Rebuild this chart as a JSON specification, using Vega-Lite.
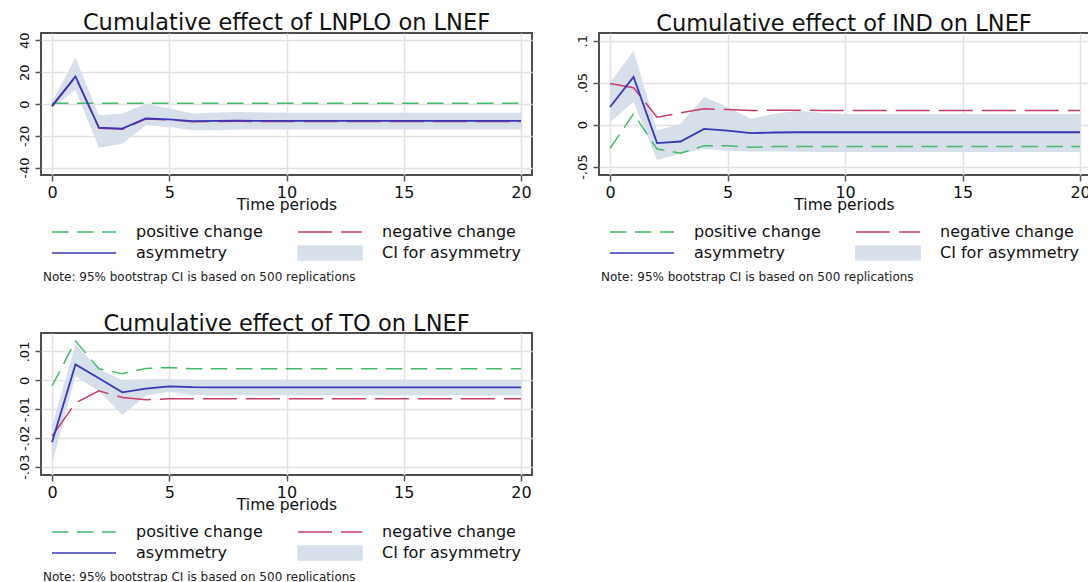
{
  "$schema": "https://vega.github.io/schema/vega-lite/v6.json",
  "padding": {"left": 16, "top": 10, "right": 0, "bottom": 0},
  "background": "white",
  "datasets": {
    "lnplo": [
      {"t": 0, "pos": 0.4, "neg": -1.6, "asym": -1.2, "lo": -2.7, "hi": 1.4},
      {"t": 1, "pos": 0.4, "neg": 16.9, "asym": 17.3, "lo": 9, "hi": 29},
      {"t": 2, "pos": 0.4, "neg": -15.2, "asym": -14.8, "lo": -27.5, "hi": -7},
      {"t": 3, "pos": 0.4, "neg": -15.9, "asym": -15.5, "lo": -25, "hi": -6},
      {"t": 4, "pos": 0.4, "neg": -9.5, "asym": -9.1, "lo": -13.3, "hi": 0},
      {"t": 5, "pos": 0.4, "neg": -10.0, "asym": -9.6, "lo": -14.4, "hi": -2.7},
      {"t": 6, "pos": 0.4, "neg": -11.2, "asym": -10.8, "lo": -16.5, "hi": -6},
      {"t": 7, "pos": 0.4, "neg": -11.0, "asym": -10.6, "lo": -16.3, "hi": -5.3},
      {"t": 8, "pos": 0.4, "neg": -10.9, "asym": -10.5, "lo": -16.0, "hi": -5.0},
      {"t": 9, "pos": 0.4, "neg": -11.0, "asym": -10.6, "lo": -16.0, "hi": -5.3},
      {"t": 10, "pos": 0.4, "neg": -11.0, "asym": -10.6, "lo": -16.0, "hi": -5.5},
      {"t": 11, "pos": 0.4, "neg": -11.0, "asym": -10.6, "lo": -16.0, "hi": -5.5},
      {"t": 12, "pos": 0.4, "neg": -11.0, "asym": -10.6, "lo": -16.0, "hi": -5.5},
      {"t": 13, "pos": 0.4, "neg": -11.0, "asym": -10.6, "lo": -16.0, "hi": -5.5},
      {"t": 14, "pos": 0.4, "neg": -11.0, "asym": -10.6, "lo": -16.0, "hi": -5.5},
      {"t": 15, "pos": 0.4, "neg": -11.0, "asym": -10.6, "lo": -16.0, "hi": -5.5},
      {"t": 16, "pos": 0.4, "neg": -11.0, "asym": -10.6, "lo": -16.0, "hi": -5.5},
      {"t": 17, "pos": 0.4, "neg": -11.0, "asym": -10.6, "lo": -16.0, "hi": -5.5},
      {"t": 18, "pos": 0.4, "neg": -11.0, "asym": -10.6, "lo": -16.0, "hi": -5.5},
      {"t": 19, "pos": 0.4, "neg": -11.0, "asym": -10.6, "lo": -16.0, "hi": -5.5},
      {"t": 20, "pos": 0.4, "neg": -11.0, "asym": -10.6, "lo": -16.0, "hi": -5.5}
    ],
    "ind": [
      {"t": 0, "pos": -0.028, "neg": 0.049, "asym": 0.021, "lo": 0.003, "hi": 0.050},
      {"t": 1, "pos": 0.013, "neg": 0.044, "asym": 0.057, "lo": 0.027, "hi": 0.088},
      {"t": 2, "pos": -0.029, "neg": 0.009, "asym": -0.022, "lo": -0.042, "hi": -0.007},
      {"t": 3, "pos": -0.034, "neg": 0.014, "asym": -0.020, "lo": -0.0345, "hi": 0.001},
      {"t": 4, "pos": -0.025, "neg": 0.019, "asym": -0.005, "lo": -0.029, "hi": 0.033},
      {"t": 5, "pos": -0.025, "neg": 0.018, "asym": -0.007, "lo": -0.031, "hi": 0.021},
      {"t": 6, "pos": -0.027, "neg": 0.017, "asym": -0.010, "lo": -0.032, "hi": 0.007},
      {"t": 7, "pos": -0.026, "neg": 0.0172, "asym": -0.0093, "lo": -0.032, "hi": 0.013},
      {"t": 8, "pos": -0.026, "neg": 0.0172, "asym": -0.009, "lo": -0.0323, "hi": 0.0165},
      {"t": 9, "pos": -0.026, "neg": 0.017, "asym": -0.009, "lo": -0.0325, "hi": 0.014},
      {"t": 10, "pos": -0.026, "neg": 0.017, "asym": -0.009, "lo": -0.0325, "hi": 0.0128},
      {"t": 11, "pos": -0.026, "neg": 0.017, "asym": -0.009, "lo": -0.0325, "hi": 0.0128},
      {"t": 12, "pos": -0.026, "neg": 0.017, "asym": -0.009, "lo": -0.0325, "hi": 0.0128},
      {"t": 13, "pos": -0.026, "neg": 0.017, "asym": -0.009, "lo": -0.0325, "hi": 0.0128},
      {"t": 14, "pos": -0.026, "neg": 0.017, "asym": -0.009, "lo": -0.0325, "hi": 0.0128},
      {"t": 15, "pos": -0.026, "neg": 0.017, "asym": -0.009, "lo": -0.0325, "hi": 0.0128},
      {"t": 16, "pos": -0.026, "neg": 0.017, "asym": -0.009, "lo": -0.0325, "hi": 0.0128},
      {"t": 17, "pos": -0.026, "neg": 0.017, "asym": -0.009, "lo": -0.0325, "hi": 0.0128},
      {"t": 18, "pos": -0.026, "neg": 0.017, "asym": -0.009, "lo": -0.0325, "hi": 0.0128},
      {"t": 19, "pos": -0.026, "neg": 0.017, "asym": -0.009, "lo": -0.0325, "hi": 0.0128},
      {"t": 20, "pos": -0.026, "neg": 0.017, "asym": -0.009, "lo": -0.0325, "hi": 0.0128}
    ],
    "to": [
      {"t": 0, "pos": -0.002, "neg": -0.0194, "asym": -0.0215, "lo": -0.029, "hi": -0.0158},
      {"t": 1, "pos": 0.0136, "neg": -0.0079, "asym": 0.0055, "lo": 0.0015, "hi": 0.0124},
      {"t": 2, "pos": 0.004, "neg": -0.0037, "asym": 0.0007, "lo": -0.0037, "hi": 0.0038},
      {"t": 3, "pos": 0.0023, "neg": -0.006, "asym": -0.0042, "lo": -0.0121, "hi": 0.0001},
      {"t": 4, "pos": 0.0041, "neg": -0.0068, "asym": -0.0029, "lo": -0.0054, "hi": 0.0003},
      {"t": 5, "pos": 0.0044, "neg": -0.0064, "asym": -0.0021, "lo": -0.004, "hi": 0.0004},
      {"t": 6, "pos": 0.004, "neg": -0.0064, "asym": -0.0024, "lo": -0.0052, "hi": 0.0002},
      {"t": 7, "pos": 0.004, "neg": -0.0064, "asym": -0.0025, "lo": -0.0052, "hi": 0.0002},
      {"t": 8, "pos": 0.004, "neg": -0.0064, "asym": -0.0025, "lo": -0.0052, "hi": 0.0002},
      {"t": 9, "pos": 0.004, "neg": -0.0064, "asym": -0.0025, "lo": -0.0052, "hi": 0.0002},
      {"t": 10, "pos": 0.004, "neg": -0.0064, "asym": -0.0025, "lo": -0.0052, "hi": 0.0002},
      {"t": 11, "pos": 0.004, "neg": -0.0064, "asym": -0.0025, "lo": -0.0052, "hi": 0.0002},
      {"t": 12, "pos": 0.004, "neg": -0.0064, "asym": -0.0025, "lo": -0.0052, "hi": 0.0002},
      {"t": 13, "pos": 0.004, "neg": -0.0064, "asym": -0.0025, "lo": -0.0052, "hi": 0.0002},
      {"t": 14, "pos": 0.004, "neg": -0.0064, "asym": -0.0025, "lo": -0.0052, "hi": 0.0002},
      {"t": 15, "pos": 0.004, "neg": -0.0064, "asym": -0.0025, "lo": -0.0052, "hi": 0.0002},
      {"t": 16, "pos": 0.004, "neg": -0.0064, "asym": -0.0025, "lo": -0.0052, "hi": 0.0002},
      {"t": 17, "pos": 0.004, "neg": -0.0064, "asym": -0.0025, "lo": -0.0052, "hi": 0.0002},
      {"t": 18, "pos": 0.004, "neg": -0.0064, "asym": -0.0025, "lo": -0.0052, "hi": 0.0002},
      {"t": 19, "pos": 0.004, "neg": -0.0064, "asym": -0.0025, "lo": -0.0052, "hi": 0.0002},
      {"t": 20, "pos": 0.004, "neg": -0.0064, "asym": -0.0025, "lo": -0.0052, "hi": 0.0002}
    ]
  },
  "columns": 2,
  "spacing": {"column": 67, "row": 158},
  "bounds": "flush",
  "resolve": {"scale": {"color": "independent"}, "legend": {"color": "independent"}},
  "concat": [
    {
      "title": "Cumulative effect of LNPLO on LNEF",
      "width": 491, "height": 142,
      "data": {"name": "lnplo"},
      "encoding": {"x": {"field": "t", "type": "quantitative", "title": "Time periods", "scale": {"domain": [-0.47, 20.47], "nice": false, "zero": false}, "axis": {"values": [0, 5, 10, 15, 20]}}},
      "layer": [
        {"mark": {"type": "area", "opacity": 1, "clip": true},
         "encoding": {
           "y": {"field": "lo", "type": "quantitative", "title": null, "scale": {"domain": [-44.6, 44.6], "nice": false, "zero": false}, "axis": {"values": [-40, -20, 0, 20, 40], "labelOverlap": false}},
           "y2": {"field": "hi"},
           "color": {"datum": "CI for asymmetry", "type": "nominal",
             "scale": {"domain": ["positive change", "negative change", "asymmetry", "CI for asymmetry"], "range": ["#46b96c", "#c63d68", "#3838b6", "#d7dfeb"]},
             "legend": {"title": "Note: 95% bootstrap CI is based on 500 replications",
               "encoding": {
                 "symbols": {"opacity": {"value": 1},
                   "shape": {"value": {"expr": "datum.value === 'CI for asymmetry' ? 'M-4,-0.875H4V0.875H-4Z' : 'M-4,0H4'"}},
                   "fill": {"value": {"expr": "datum.value === 'CI for asymmetry' ? '#d7dfeb' : 'transparent'"}},
                   "stroke": {"value": {"expr": "datum.value === 'positive change' ? '#46b96c' : datum.value === 'negative change' ? '#c63d68' : datum.value === 'asymmetry' ? '#3838b6' : 'transparent'"}},
                   "strokeDash": {"value": {"expr": "datum.value === 'positive change' ? [16.5, 8.5] : datum.value === 'negative change' ? [34, 9] : [1, 0]"}}}
               }}}
         }},
        {"mark": {"type": "line", "strokeDash": [16.5, 8.5], "strokeWidth": 1.5, "clip": true},
         "encoding": {"y": {"field": "pos", "type": "quantitative", "title": null, "axis": {"values": [-40, -20, 0, 20, 40], "labelOverlap": false}}, "color": {"datum": "positive change", "type": "nominal"}}},
        {"mark": {"type": "line", "strokeDash": [34, 9], "strokeWidth": 1.5, "clip": true},
         "encoding": {"y": {"field": "neg", "type": "quantitative", "title": null, "axis": {"values": [-40, -20, 0, 20, 40], "labelOverlap": false}}, "color": {"datum": "negative change", "type": "nominal"}}},
        {"mark": {"type": "line", "strokeWidth": 1.8, "clip": true},
         "encoding": {"y": {"field": "asym", "type": "quantitative", "title": null, "axis": {"values": [-40, -20, 0, 20, 40], "labelOverlap": false}}, "color": {"datum": "asymmetry", "type": "nominal"}}}
      ]
    },
    {
      "title": "Cumulative effect of IND on LNEF",
      "width": 490, "height": 142,
      "data": {"name": "ind"},
      "encoding": {"x": {"field": "t", "type": "quantitative", "title": "Time periods", "scale": {"domain": [-0.47, 20.38], "nice": false, "zero": false}, "axis": {"values": [0, 5, 10, 15, 20]}}},
      "layer": [
        {"mark": {"type": "area", "opacity": 1, "clip": true},
         "encoding": {
           "y": {"field": "lo", "type": "quantitative", "title": null, "scale": {"domain": [-0.0599, 0.1092], "nice": false, "zero": false}, "axis": {"values": [-0.05, 0, 0.05, 0.1], "labelOverlap": false}},
           "y2": {"field": "hi"},
           "color": {"datum": "CI for asymmetry", "type": "nominal",
             "scale": {"domain": ["positive change", "negative change", "asymmetry", "CI for asymmetry"], "range": ["#46b96c", "#c63d68", "#3838b6", "#d7dfeb"]},
             "legend": {"title": "Note: 95% bootstrap CI is based on 500 replications",
               "encoding": {
                 "symbols": {"opacity": {"value": 1},
                   "shape": {"value": {"expr": "datum.value === 'CI for asymmetry' ? 'M-4,-0.875H4V0.875H-4Z' : 'M-4,0H4'"}},
                   "fill": {"value": {"expr": "datum.value === 'CI for asymmetry' ? '#d7dfeb' : 'transparent'"}},
                   "stroke": {"value": {"expr": "datum.value === 'positive change' ? '#46b96c' : datum.value === 'negative change' ? '#c63d68' : datum.value === 'asymmetry' ? '#3838b6' : 'transparent'"}},
                   "strokeDash": {"value": {"expr": "datum.value === 'positive change' ? [16.5, 8.5] : datum.value === 'negative change' ? [34, 9] : [1, 0]"}}}
               }}}
         }},
        {"mark": {"type": "line", "strokeDash": [16.5, 8.5], "strokeWidth": 1.5, "clip": true},
         "encoding": {"y": {"field": "pos", "type": "quantitative", "title": null, "axis": {"values": [-0.05, 0, 0.05, 0.1], "labelOverlap": false}}, "color": {"datum": "positive change", "type": "nominal"}}},
        {"mark": {"type": "line", "strokeDash": [34, 9], "strokeWidth": 1.5, "clip": true},
         "encoding": {"y": {"field": "neg", "type": "quantitative", "title": null, "axis": {"values": [-0.05, 0, 0.05, 0.1], "labelOverlap": false}}, "color": {"datum": "negative change", "type": "nominal"}}},
        {"mark": {"type": "line", "strokeWidth": 1.8, "clip": true},
         "encoding": {"y": {"field": "asym", "type": "quantitative", "title": null, "axis": {"values": [-0.05, 0, 0.05, 0.1], "labelOverlap": false}}, "color": {"datum": "asymmetry", "type": "nominal"}}}
      ]
    },
    {
      "title": "Cumulative effect of TO on LNEF",
      "width": 491, "height": 142,
      "data": {"name": "to"},
      "encoding": {"x": {"field": "t", "type": "quantitative", "title": "Time periods", "scale": {"domain": [-0.47, 20.47], "nice": false, "zero": false}, "axis": {"values": [0, 5, 10, 15, 20]}}},
      "layer": [
        {"mark": {"type": "area", "opacity": 1, "clip": true},
         "encoding": {
           "y": {"field": "lo", "type": "quantitative", "title": null, "scale": {"domain": [-0.0329, 0.0164], "nice": false, "zero": false}, "axis": {"values": [-0.03, -0.02, -0.01, 0, 0.01], "labelOverlap": false}},
           "y2": {"field": "hi"},
           "color": {"datum": "CI for asymmetry", "type": "nominal",
             "scale": {"domain": ["positive change", "negative change", "asymmetry", "CI for asymmetry"], "range": ["#46b96c", "#c63d68", "#3838b6", "#d7dfeb"]},
             "legend": {"title": "Note: 95% bootstrap CI is based on 500 replications",
               "encoding": {
                 "symbols": {"opacity": {"value": 1},
                   "shape": {"value": {"expr": "datum.value === 'CI for asymmetry' ? 'M-4,-0.875H4V0.875H-4Z' : 'M-4,0H4'"}},
                   "fill": {"value": {"expr": "datum.value === 'CI for asymmetry' ? '#d7dfeb' : 'transparent'"}},
                   "stroke": {"value": {"expr": "datum.value === 'positive change' ? '#46b96c' : datum.value === 'negative change' ? '#c63d68' : datum.value === 'asymmetry' ? '#3838b6' : 'transparent'"}},
                   "strokeDash": {"value": {"expr": "datum.value === 'positive change' ? [16.5, 8.5] : datum.value === 'negative change' ? [34, 9] : [1, 0]"}}}
               }}}
         }},
        {"mark": {"type": "line", "strokeDash": [16.5, 8.5], "strokeWidth": 1.5, "clip": true},
         "encoding": {"y": {"field": "pos", "type": "quantitative", "title": null, "axis": {"values": [-0.03, -0.02, -0.01, 0, 0.01], "labelOverlap": false}}, "color": {"datum": "positive change", "type": "nominal"}}},
        {"mark": {"type": "line", "strokeDash": [34, 9], "strokeWidth": 1.5, "clip": true},
         "encoding": {"y": {"field": "neg", "type": "quantitative", "title": null, "axis": {"values": [-0.03, -0.02, -0.01, 0, 0.01], "labelOverlap": false}}, "color": {"datum": "negative change", "type": "nominal"}}},
        {"mark": {"type": "line", "strokeWidth": 1.8, "clip": true},
         "encoding": {"y": {"field": "asym", "type": "quantitative", "title": null, "axis": {"values": [-0.03, -0.02, -0.01, 0, 0.01], "labelOverlap": false}}, "color": {"datum": "asymmetry", "type": "nominal"}}}
      ]
    }
  ],
  "config": {
    "font": "DejaVu Sans",
    "view": {"stroke": "#4d4d4d", "strokeWidth": 2},
    "title": {"fontSize": 22.5, "fontWeight": "normal", "color": "#111111", "offset": -2, "font": "DejaVu Sans"},
    "axis": {"domain": false, "grid": true, "gridColor": "#e2e2e2", "gridWidth": 1.5, "tickColor": "#555555", "tickWidth": 1.5, "tickSize": 6,
             "labelColor": "#111111", "titleColor": "#111111", "labelFlush": false, "labelOverlap": false, "labelBound": false},
    "axisX": {"labelFontSize": 16, "labelPadding": 3, "titleFontSize": 15.5, "titleFontWeight": "normal", "titlePadding": -3},
    "axisY": {"labelFontSize": 13, "labelPadding": 4, "labelAngle": 270, "labelAlign": "center", "labelBaseline": "bottom",
              "labelExpr": "replace(toString(datum.value), '0.', '.')"},
    "legend": {"orient": "none", "legendX": 2, "legendY": 190, "direction": "horizontal", "columns": 2,
               "titleOrient": "bottom", "titleAnchor": "start", "titleLimit": 600,
               "symbolOffset": 32, "labelOffset": 43, "symbolType": "stroke", "symbolSize": 256, "symbolStrokeWidth": 1.6,
               "columnPadding": 26, "rowPadding": 2,
               "labelFontSize": 16, "labelColor": "#111111", "titleFontSize": 12, "titleFontWeight": "normal", "titleColor": "#222222", "titlePadding": 9}
  }
}
